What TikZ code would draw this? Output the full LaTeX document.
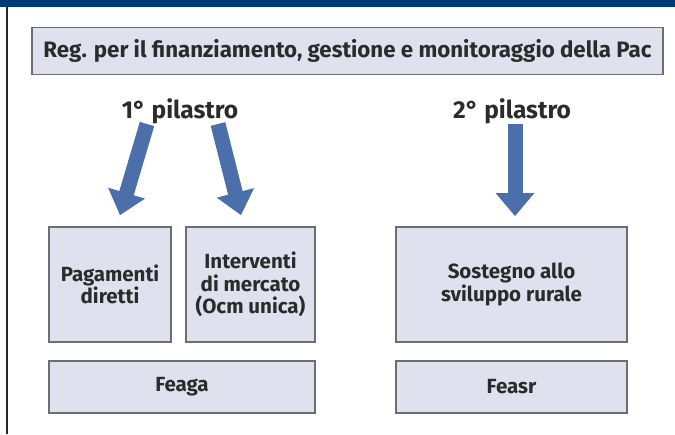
\documentclass[tikz,border=0pt]{standalone}
\usepackage{fontspec}
\setmainfont{Fira Sans}
\usetikzlibrary{arrows.meta}
\definecolor{bandblue}{HTML}{003B73}
\definecolor{boxfill}{HTML}{DFE2EE}
\definecolor{boxline}{HTML}{6E6E6E}
\definecolor{arrowblue}{HTML}{4B6FAA}
\definecolor{txtgray}{HTML}{2B2B2B}

\begin{document}
\begin{tikzpicture}[x=1pt,y=-1pt,
  box/.style={draw=boxline, line width=1.6pt, fill=boxfill, inner sep=0pt, align=center,
    text=txtgray, font=\bfseries\fontsize{20.5}{22.5}\selectfont},
  pillar/.style={text=txtgray, inner sep=0pt, font=\bfseries\fontsize{24.5}{26}\selectfont},
  bigarrow/.style={arrowblue, line width=15pt, -{Triangle[width=37pt,length=23pt]}}]
\useasboundingbox (0,0) rectangle (675,434);
% frame
\fill[bandblue] (0,0) rectangle (675,7);
\fill[black!85] (6,7) rectangle (8,434);
% title
\node[box, minimum width=631, minimum height=47, font=\bfseries\fontsize{22.3}{24}\selectfont] (reg) at (347.5,51)
  {Reg. per il finanziamento, gestione e monitoraggio della Pac};
% pillars
\node[pillar] (pil1) at (180,111) {1° pilastro};
\node[pillar] (pil2) at (512,111) {2° pilastro};
% boxes
\node[box, minimum width=122, minimum height=115] (pag) at (110,284.5) {Pagamenti\\diretti};
\node[box, minimum width=129, minimum height=115] (int) at (250.5,284.5) {Interventi\\di mercato\\(Ocm unica)};
\node[box, minimum width=266, minimum height=52] (feaga) at (182,387) {Feaga};
\node[box, minimum width=231, minimum height=115] (sost) at (511.5,284.5) {Sostegno allo\\sviluppo rurale};
\node[box, minimum width=231, minimum height=52] (feasr) at (511.5,387) {Feasr};
% arrows
\draw[bigarrow] ([xshift=-33pt,yshift=-13pt]pil1.center) -- ([xshift=10pt,yshift=11pt]pag.north);
\draw[bigarrow] ([xshift=38pt,yshift=-13pt]pil1.center) -- ([xshift=-9.5pt,yshift=11pt]int.north);
\draw[bigarrow] ([xshift=3pt,yshift=-13pt]pil2.center) -- ([xshift=3.5pt,yshift=10pt]sost.north);
\end{tikzpicture}
\end{document}
